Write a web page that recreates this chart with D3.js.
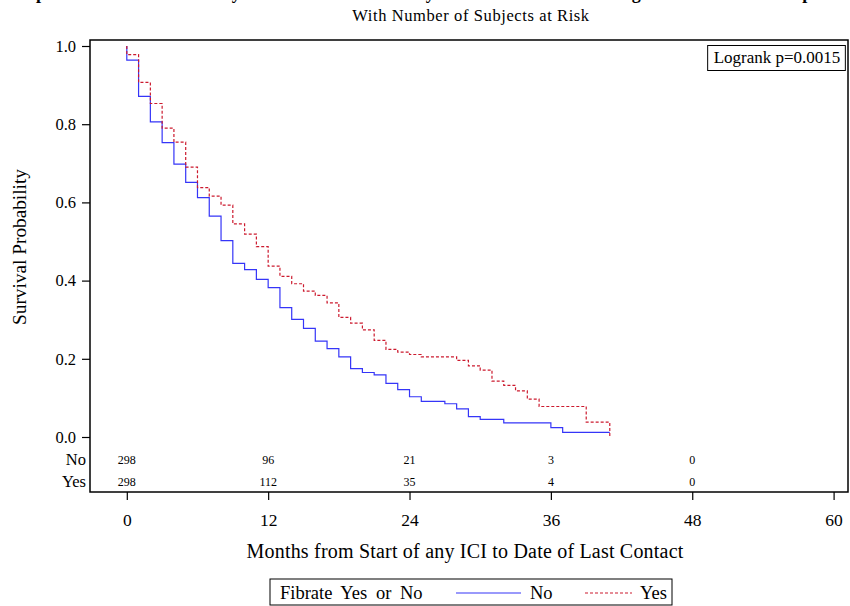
<!DOCTYPE html>
<html><head><meta charset="utf-8">
<script src="https://cdn.jsdelivr.net/npm/d3@7"></script>
<style>
html,body{margin:0;padding:0;background:#fff;}
svg{display:block;font-family:"Liberation Serif","Times New Roman",serif;}
</style></head>
<body>
<svg id="chart" width="850" height="606"></svg>
<script>
// ---- data ----
const timesNo  = [0,0,1,2,3,4,5,6,7,8,9,10,11,12,13,14,15,16,17,18,19,20,21,22,23,24,25,26,27,28,29,30,31,32,33,34,35,36,37,38,39,40,41];
const survNo   = [1.000,0.964,0.871,0.806,0.753,0.698,0.651,0.612,0.565,0.502,0.444,0.428,0.403,0.382,0.331,0.301,0.278,0.245,0.226,0.205,0.175,0.165,0.159,0.137,0.121,0.103,0.091,0.091,0.085,0.072,0.052,0.045,0.045,0.036,0.036,0.036,0.036,0.024,0.012,0.012,0.012,0.012,0.012];
const timesYes = [0,0,1,2,3,4,5,6,7,8,9,10,11,12,13,14,15,16,17,18,19,20,21,22,23,24,25,26,27,28,29,30,31,32,33,34,35,36,37,38,39,40,41];
const survYes  = [1.000,0.978,0.907,0.853,0.790,0.754,0.690,0.638,0.616,0.593,0.545,0.519,0.487,0.437,0.411,0.392,0.373,0.362,0.343,0.306,0.291,0.274,0.247,0.224,0.217,0.211,0.205,0.205,0.205,0.196,0.182,0.171,0.143,0.132,0.118,0.097,0.078,0.078,0.078,0.078,0.038,0.038,0.000];
const xTicks = [0,12,24,36,48,60];
const yTicks = [0.0,0.2,0.4,0.6,0.8,1.0];
const riskTimes = [0,12,24,36,48];
const riskNo  = [298,96,21,3,0];
const riskYes = [298,112,35,4,0];
const groups = ["No","Yes"];
const pValueText = "Logrank p=0.0015";
const titleText = "Kaplan-Meier Survival Analysis of Overall Survival by Fibrate Use Status Among ICI-Treated Cancer patients";
const subtitleText = "With Number of Subjects at Risk";

// ---- layout ----
const svg = d3.select("#chart");
const frame = {left:90, top:40, right:848, bottom:492};
const x = d3.scaleLinear().domain([0,60]).range([126.8,833.6]);
const y = d3.scaleLinear().domain([0,1]).range([437,46]);
const blue = "#3535f8", red = "#cc1a2e";

svg.append("rect").attr("width",850).attr("height",606).attr("fill","#fff");

// title (clipped at top as in the reference) and subtitle
const tt = svg.append("text").attr("x",0).attr("y",-1)
  .attr("font-size",18).attr("font-weight","bold").text(titleText);
const pIdx = titleText.indexOf("p");
const pOff = tt.node().getSubStringLength(0,pIdx);
tt.attr("x", 36 - pOff);
svg.append("text").attr("x",471).attr("y",21).attr("text-anchor","middle")
  .attr("font-size",16.5).attr("letter-spacing",0.6).text(subtitleText);

// frame
svg.append("rect").attr("x",frame.left).attr("y",frame.top)
  .attr("width",frame.right-frame.left).attr("height",frame.bottom-frame.top)
  .attr("fill","none").attr("stroke","#000").attr("stroke-width",1.5);

// y axis
const yAxis = d3.axisLeft(y).tickValues(yTicks).tickFormat(d3.format(".1f")).tickSize(8).tickPadding(6);
const gy = svg.append("g").attr("transform",`translate(${frame.left},0)`).call(yAxis);
gy.select(".domain").remove();
gy.selectAll("text").attr("font-size",16.5).attr("font-family","Liberation Serif, serif").attr("fill","#000");
gy.selectAll("line").attr("stroke","#000").attr("stroke-width",1.2);

// x axis
const xAxis = d3.axisBottom(x).tickValues(xTicks).tickSize(8).tickPadding(14);
const gx = svg.append("g").attr("transform",`translate(0,${frame.bottom})`).call(xAxis);
gx.select(".domain").remove();
gx.selectAll("text").attr("font-size",17.5).attr("font-family","Liberation Serif, serif").attr("fill","#000");
gx.selectAll("line").attr("stroke","#000").attr("stroke-width",1.2);

// axis titles
svg.append("text").attr("x",465).attr("y",558).attr("text-anchor","middle")
  .attr("font-size",20).attr("letter-spacing",0.2).text("Months from Start of any ICI to Date of Last Contact");
svg.append("text").attr("transform","translate(26,247) rotate(-90)").attr("text-anchor","middle")
  .attr("font-size",19.3).text("Survival Probability");

// curves
const line = d3.line().x(d=>x(d[0])).y(d=>y(d[1])).curve(d3.curveStepAfter);
const ptsNo = timesNo.map((t,i)=>[t,survNo[i]]);
const ptsYes = timesYes.map((t,i)=>[t,survYes[i]]);
svg.append("path").attr("d",line(ptsNo)).attr("fill","none").attr("stroke",blue).attr("stroke-width",1.2);
svg.append("path").attr("d",line(ptsYes)).attr("fill","none").attr("stroke",red).attr("stroke-width",1.2).attr("stroke-dasharray","3,2");

// logrank box
const lg = svg.append("g");
const lt = lg.append("text").attr("x",777).attr("y",63).attr("text-anchor","middle").attr("font-size",17).text(pValueText);
const bb = lt.node().getBBox();
lg.insert("rect","text").attr("x",bb.x-6).attr("y",45.5).attr("width",bb.width+11).attr("height",25)
  .attr("fill","#fff").attr("stroke","#000").attr("stroke-width",1);

// at-risk table
const rows = [riskNo, riskYes];
const rowY = [464, 486];
groups.forEach((g,gi)=>{
  svg.append("text").attr("x",86).attr("y",rowY[gi]+1).attr("text-anchor","end").attr("font-size",16.5).text(g);
  svg.selectAll(null).data(riskTimes).enter().append("text")
    .attr("x",d=>x(d)).attr("y",rowY[gi]).attr("text-anchor","middle").attr("font-size",12)
    .text((d,i)=>rows[gi][i]);
});

// legend
const leg = svg.append("g");
leg.append("rect").attr("x",270).attr("y",579).attr("width",402).attr("height",26)
  .attr("fill","#fff").attr("stroke","#000").attr("stroke-width",1);
leg.append("text").attr("x",280).attr("y",599).attr("font-size",18.5).attr("word-spacing",4).text("Fibrate Yes or No");
leg.append("line").attr("x1",456).attr("x2",521).attr("y1",593).attr("y2",593).attr("stroke",blue).attr("stroke-width",1.2);
leg.append("text").attr("x",530).attr("y",599).attr("font-size",18.5).text(groups[0]);
leg.append("line").attr("x1",585).attr("x2",632).attr("y1",593).attr("y2",593).attr("stroke",red).attr("stroke-width",1.2).attr("stroke-dasharray","3,2");
leg.append("text").attr("x",640).attr("y",599).attr("font-size",18.5).text(groups[1]);
</script>
</body></html>
